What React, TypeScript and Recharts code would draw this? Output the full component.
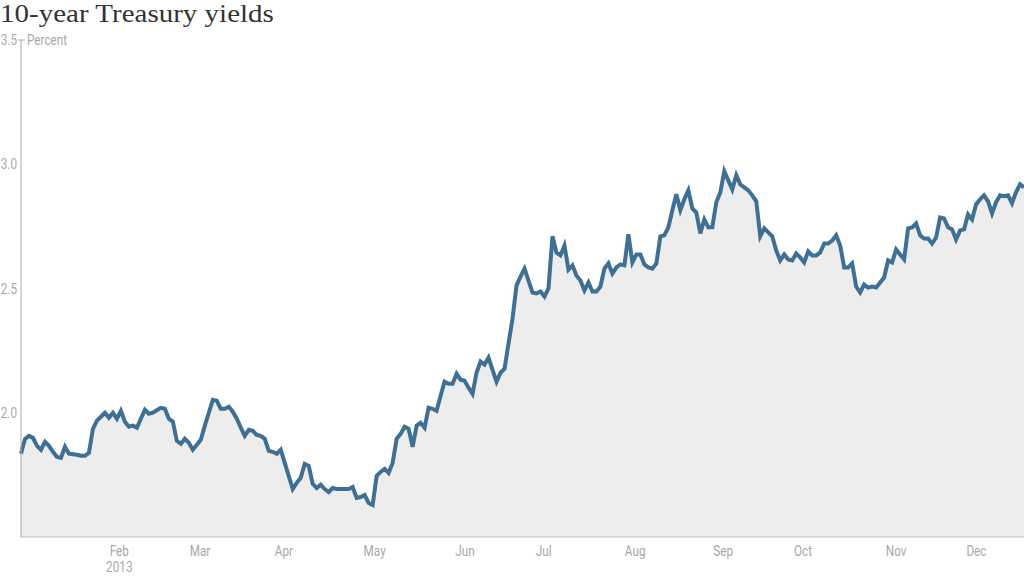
import { AreaChart, Area, XAxis, YAxis } from "recharts"

// daily 10-year yield, percent (Jan 2 - Dec 31, 2013)
const yields = [
  1.835, 1.895, 1.907, 1.899, 1.867, 1.851, 1.883, 1.867, 1.843, 1.822,
  1.818, 1.863, 1.835, 1.833, 1.831, 1.827, 1.827, 1.839, 1.935, 1.968,
  1.984, 2.0, 1.98, 2.0, 1.976, 2.008, 1.964, 1.944, 1.948, 1.94,
  1.976, 2.012, 1.996, 2.0, 2.01, 2.02, 2.016, 1.976, 1.964, 1.887,
  1.875, 1.895, 1.879, 1.851, 1.871, 1.891, 1.948, 2.0, 2.052, 2.048,
  2.016, 2.016, 2.024, 2.004, 1.976, 1.94, 1.907, 1.931, 1.927, 1.911,
  1.907, 1.895, 1.847, 1.843, 1.835, 1.851, 1.798, 1.746, 1.693, 1.718,
  1.738, 1.794, 1.786, 1.714, 1.697, 1.71, 1.693, 1.681, 1.697, 1.693,
  1.693, 1.693, 1.693, 1.701, 1.657, 1.661, 1.669, 1.637, 1.629, 1.746,
  1.762, 1.774, 1.758, 1.798, 1.895, 1.915, 1.944, 1.935, 1.863, 1.948,
  1.96, 1.94, 2.02, 2.016, 2.008, 2.068, 2.125, 2.117, 2.117, 2.157,
  2.133, 2.129, 2.101, 2.076, 2.161, 2.206, 2.194, 2.222, 2.173, 2.125,
  2.161, 2.177, 2.278, 2.379, 2.512, 2.548, 2.58, 2.532, 2.484, 2.48,
  2.488, 2.468, 2.5, 2.71, 2.645, 2.633, 2.673, 2.576, 2.593, 2.552,
  2.532, 2.492, 2.524, 2.488, 2.488, 2.508, 2.58, 2.601, 2.56, 2.585,
  2.597, 2.593, 2.718, 2.605, 2.637, 2.637, 2.597, 2.585, 2.58, 2.601,
  2.71, 2.714, 2.746, 2.815, 2.879, 2.815, 2.859, 2.895, 2.822, 2.806,
  2.722, 2.778, 2.746, 2.746, 2.847, 2.887, 2.972, 2.935, 2.899, 2.956,
  2.919, 2.907, 2.895, 2.875, 2.851, 2.71, 2.742, 2.726, 2.71, 2.653,
  2.613, 2.637, 2.617, 2.613, 2.641, 2.625, 2.605, 2.649, 2.633, 2.633,
  2.645, 2.681, 2.681, 2.693, 2.714, 2.673, 2.585, 2.585, 2.601, 2.508,
  2.484, 2.516, 2.504, 2.508, 2.504, 2.524, 2.544, 2.613, 2.605, 2.657,
  2.637, 2.617, 2.742, 2.746, 2.762, 2.714, 2.701, 2.701, 2.681, 2.705,
  2.786, 2.782, 2.746, 2.738, 2.697, 2.734, 2.738, 2.798, 2.778, 2.838,
  2.859, 2.875, 2.851, 2.802, 2.847, 2.875, 2.871, 2.875, 2.843, 2.887,
  2.919, 2.907,
]

const monthLabels = ["Feb", "Mar", "Apr", "May", "Jun", "Jul", "Aug", "Sep", "Oct", "Nov", "Dec"]
const monthTickDays = [24.6, 44.8, 65.8, 88.5, 111.1, 130.8, 153.7, 175.7, 195.7, 219, 239.1]
const yTicks = [2.0, 2.5, 3.0, 3.5]

const data = yields.map((v, i) => ({ day: i, value: v }))

const labelFont = "Roboto, 'Liberation Sans', sans-serif"
const gray = "#a8a8a8"
const squeeze = 0.84 // the original uses a condensed face

function Label({ x, y, anchor, children }: any) {
  return (
    <text
      transform={`translate(${x},${y}) scale(${squeeze},1)`}
      textAnchor={anchor}
      fill={gray}
      fontSize={14}
      fontFamily={labelFont}
    >
      {children}
    </text>
  )
}

function XTick(props: any) {
  const { x, y, payload } = props
  const idx = monthTickDays.indexOf(payload.value)
  return (
    <g>
      <Label x={x} y={y + 11} anchor="middle">{monthLabels[idx]}</Label>
      {idx === 0 && <Label x={x} y={y + 27} anchor="middle">2013</Label>}
    </g>
  )
}

function YTick(props: any) {
  const { x, y, payload } = props
  const top = payload.value === yTicks[yTicks.length - 1]
  return (
    <g>
      <Label x={x} y={y + 5} anchor="end">{payload.value.toFixed(1)}</Label>
      {top && <line x1={x + 1} y1={y} x2={x + 8} y2={y} stroke={gray} strokeWidth={1} />}
      {top && <Label x={x + 10} y={y + 5} anchor="start">Percent</Label>}
    </g>
  )
}

export default function App() {
  return (
    <div style={{ position: "absolute", left: 0, top: 0, width: 1024, height: 576, background: "#fff" }}>
      <div
        style={{
          position: "absolute",
          left: 0,
          top: 1,
          fontFamily: "'Liberation Serif', 'DejaVu Serif', serif",
          fontSize: 25,
          lineHeight: "25px",
          color: "#333",
          whiteSpace: "nowrap",
          transform: "scale(1.16, 1)",
          transformOrigin: "0 0",
        }}
      >
        10-year Treasury yields
      </div>
      <AreaChart width={1024} height={576} data={data} margin={{ top: 40, right: 0, left: 0, bottom: 0 }}>
        <XAxis
          type="number"
          dataKey="day"
          domain={[0, yields.length - 1]}
          ticks={monthTickDays}
          interval={0}
          tick={XTick}
          tickLine={false}
          axisLine={{ stroke: "#bbb" }}
          height={39}
        />
        <YAxis
          type="number"
          domain={[1.5, 3.5]}
          ticks={yTicks}
          interval={0}
          tick={YTick}
          tickLine={false}
          tickSize={0}
          tickMargin={4}
          axisLine={{ stroke: "#aaa" }}
          width={21}
        />
        <Area
          type="linear"
          dataKey="value"
          stroke="#3e6f94"
          strokeWidth={4}
          fill="#ededed"
          fillOpacity={1}
          isAnimationActive={false}
          dot={false}
          activeDot={false}
        />
      </AreaChart>
    </div>
  )
}
